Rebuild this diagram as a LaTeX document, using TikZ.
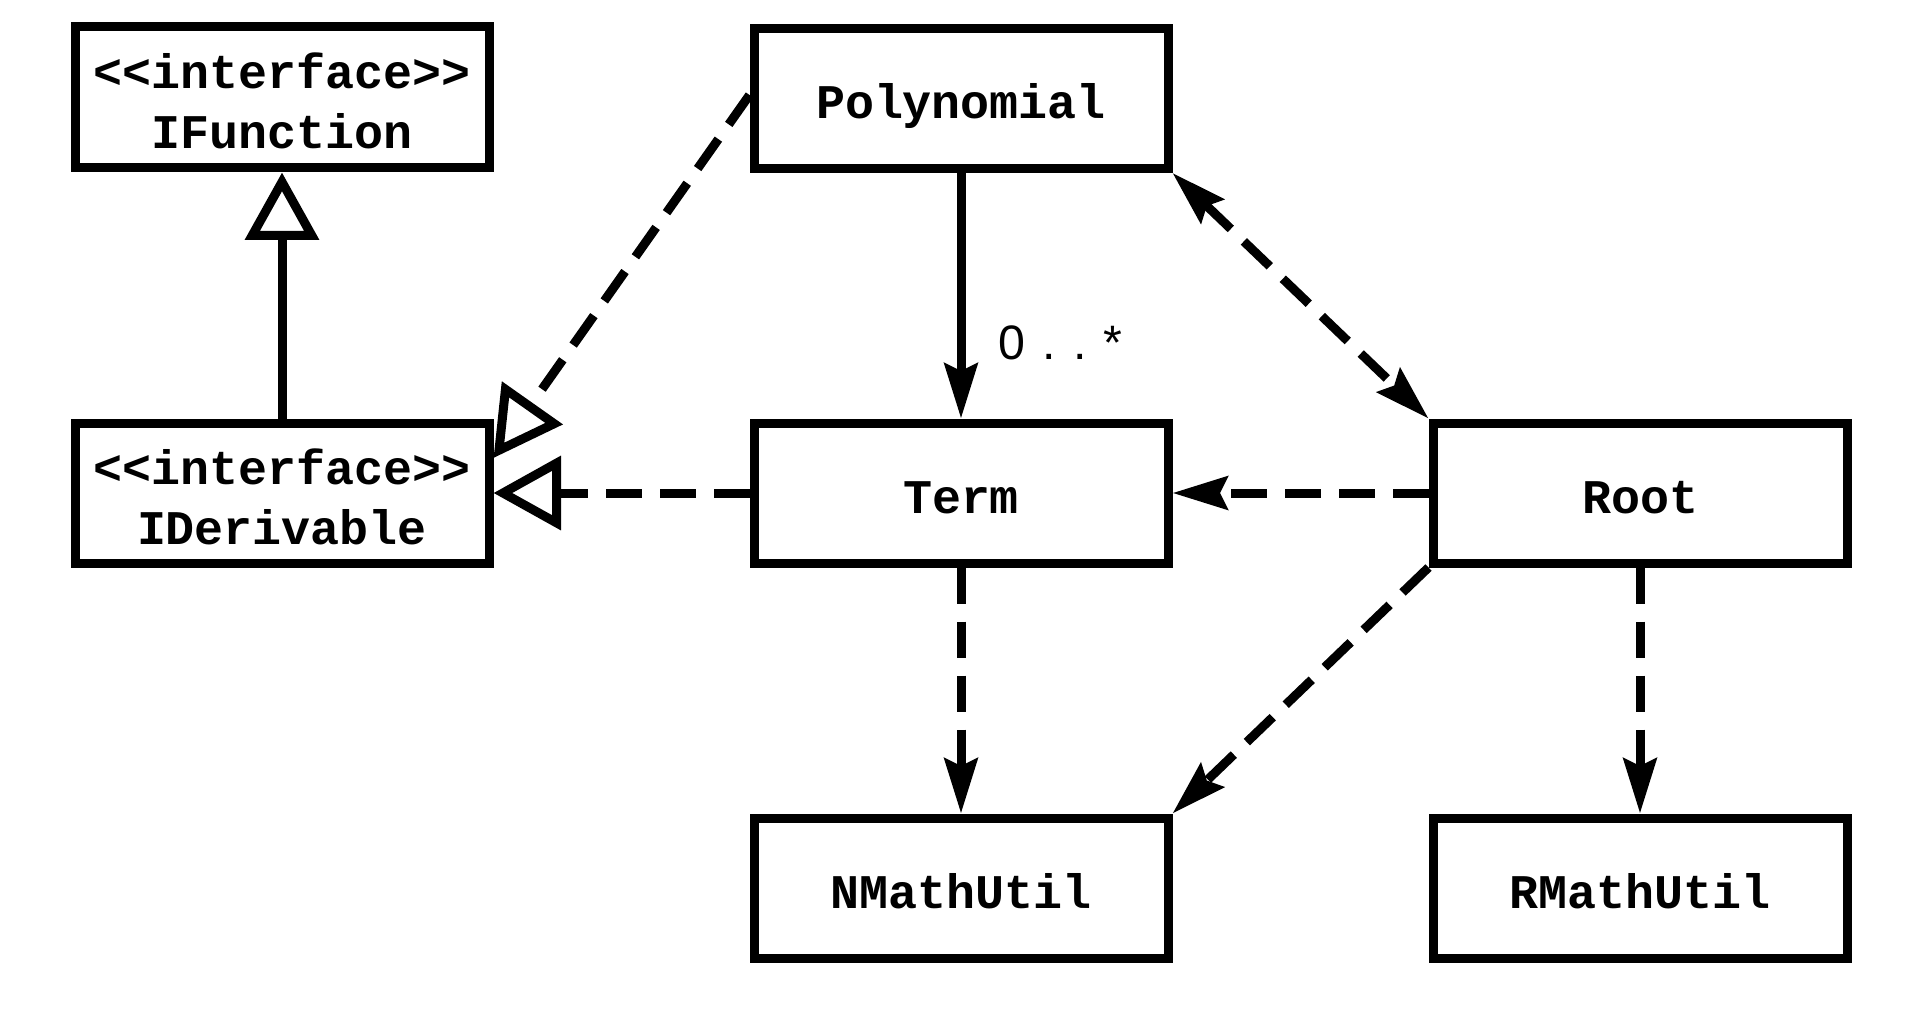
\documentclass[tikz,border=0pt]{standalone}
\usepackage{fontspec}
\setmonofont{Liberation Mono}
\newfontfamily\multfont[LetterSpace=35]{Liberation Sans}
\usetikzlibrary{arrows.meta}

\begin{document}
\begin{tikzpicture}[line width=0.18cm, >={Stealth[length=1.1cm, width=0.66cm, inset=0.15cm]},
    cls/.style={draw, rectangle, minimum width=8.28cm, minimum height=2.8cm, align=center,
      text height=0.8cm, text depth=0cm, font=\ttfamily\bfseries\fontsize{27.5}{34}\selectfont},
    iface/.style={cls, text height=2.04cm, text depth=0cm},
    dep/.style={dash pattern=on 0.72cm off 0.36cm, ->},
    gen/.style={-{Triangle[open, length=1.35cm, width=1.45cm]}},
    real/.style={gen, dash pattern=on 0.72cm off 0.36cm}]
    \useasboundingbox (0,0) rectangle (38.16,20.22);
    \node[iface, minimum height=2.82cm] (IFunction) at (5.64,18.27) {<<interface>>\\IFunction};
    \node[iface] (IDerivable) at (5.64,10.36) {<<interface>>\\IDerivable};
    \node[cls] (Polynomial) at (19.22,18.25) {Polynomial};
    \node[cls] (Term) at (19.22,10.36) {Term};
    \node[cls] (Root) at (32.8,10.36) {Root};
    \node[cls] (NMathUtil) at (19.22,2.46) {NMathUtil};
    \node[cls] (RMathUtil) at (32.8,2.46) {RMathUtil};
    \draw[gen] (IDerivable) -- (IFunction);
    \draw[real] ([yshift=0.07cm]Polynomial.west) -- ([yshift=0.7cm]IDerivable.east);
    \draw[real] (Term) -- (IDerivable);
    \draw[->] (Polynomial) -- node[pos=0.69, right, xshift=0.55cm, font=\multfont\fontsize{27.5}{33}\selectfont] {0..*} (Term);
    \draw[dep, <->] (Polynomial.south east) -- (Root.north west);
    \draw[dep] (Root) -- (Term);
    \draw[dep] (Term) -- (NMathUtil);
    \draw[dep] (Root.south west) -- (NMathUtil.north east);
    \draw[dep] (Root) -- (RMathUtil);
  \end{tikzpicture}
\end{document}
